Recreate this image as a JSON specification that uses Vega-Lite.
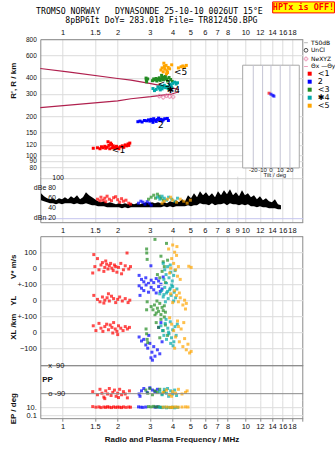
{
"$schema":"https://vega.github.io/schema/vega-lite/v6.json",
"padding":{"left":8.3,"top":1.2,"right":0,"bottom":0},
"background":"white",
"config":{
 "view":{"stroke":null},
 "font":"Liberation Sans",
 "axis":{"labelFont":"Liberation Sans","labelFontSize":7.5,"labelColor":"#111111","titleFont":"Liberation Sans","titleFontSize":8,"titleFontWeight":"bold","titleColor":"#111111","gridColor":"#dcdcdc","domainColor":"#8a8a8a","ticks":false,"labelPadding":4,"labelFlush":false,"labelOverlap":false},
 "legend":{"padding":0,"offset":0}
},
"datasets":{
"trace":[
{"f":0.761,"hi":70,"lo":56},{"f":0.790,"hi":64,"lo":54},{"f":0.821,"hi":60,"lo":52},{"f":0.852,"hi":58,"lo":50},{"f":0.885,"hi":60,"lo":50},{"f":0.919,"hi":56,"lo":48},{"f":0.954,"hi":60,"lo":50},{"f":0.991,"hi":58,"lo":48},{"f":1.029,"hi":62,"lo":50},{"f":1.069,"hi":58,"lo":50},{"f":1.110,"hi":64,"lo":50},{"f":1.153,"hi":60,"lo":48},{"f":1.198,"hi":66,"lo":50},{"f":1.244,"hi":58,"lo":48},{"f":1.291,"hi":62,"lo":48},{"f":1.341,"hi":72,"lo":50},{"f":1.393,"hi":66,"lo":48},{"f":1.447,"hi":62,"lo":46},{"f":1.502,"hi":58,"lo":46},{"f":1.560,"hi":54,"lo":44},{"f":1.620,"hi":52,"lo":44},{"f":1.683,"hi":54,"lo":44},{"f":1.748,"hi":50,"lo":42},{"f":1.815,"hi":52,"lo":42},{"f":1.885,"hi":50,"lo":42},{"f":1.958,"hi":48,"lo":42},{"f":2.033,"hi":50,"lo":42},{"f":2.112,"hi":48,"lo":40},{"f":2.193,"hi":50,"lo":42},{"f":2.277,"hi":48,"lo":40},{"f":2.365,"hi":50,"lo":42},{"f":2.457,"hi":48,"lo":42},{"f":2.551,"hi":50,"lo":42},{"f":2.650,"hi":48,"lo":42},{"f":2.752,"hi":50,"lo":42},{"f":2.858,"hi":52,"lo":42},{"f":2.968,"hi":50,"lo":42},{"f":3.083,"hi":52,"lo":42},{"f":3.201,"hi":50,"lo":42},{"f":3.325,"hi":52,"lo":42},{"f":3.453,"hi":50,"lo":42},{"f":3.586,"hi":52,"lo":44},{"f":3.724,"hi":50,"lo":42},{"f":3.868,"hi":54,"lo":44},{"f":4.017,"hi":52,"lo":42},{"f":4.172,"hi":56,"lo":44},{"f":4.332,"hi":52,"lo":44},{"f":4.499,"hi":58,"lo":44},{"f":4.673,"hi":54,"lo":44},{"f":4.853,"hi":66,"lo":46},{"f":5.040,"hi":60,"lo":44},{"f":5.234,"hi":70,"lo":46},{"f":5.436,"hi":62,"lo":46},{"f":5.645,"hi":74,"lo":50},{"f":5.863,"hi":66,"lo":48},{"f":6.089,"hi":72,"lo":48},{"f":6.323,"hi":64,"lo":46},{"f":6.567,"hi":70,"lo":50},{"f":6.820,"hi":62,"lo":46},{"f":7.083,"hi":74,"lo":48},{"f":7.356,"hi":66,"lo":48},{"f":7.640,"hi":76,"lo":50},{"f":7.934,"hi":68,"lo":46},{"f":8.239,"hi":78,"lo":50},{"f":8.557,"hi":66,"lo":48},{"f":8.887,"hi":72,"lo":48},{"f":9.229,"hi":64,"lo":46},{"f":9.585,"hi":76,"lo":48},{"f":9.950,"hi":66,"lo":46},{"f":10.33,"hi":70,"lo":48},{"f":10.73,"hi":62,"lo":44},{"f":11.15,"hi":66,"lo":44},{"f":11.57,"hi":58,"lo":42},{"f":12.02,"hi":64,"lo":44},{"f":12.48,"hi":56,"lo":42},{"f":12.97,"hi":60,"lo":42},{"f":13.47,"hi":54,"lo":40},{"f":13.98,"hi":52,"lo":40},{"f":14.52,"hi":58,"lo":40},{"f":15.08,"hi":48,"lo":38},{"f":15.66,"hi":46,"lo":38}
],
"pts":[
{"p":"R","s":"<1","f":1.47,"v":113},{"p":"R","s":"<1","f":1.55,"v":114},{"p":"R","s":"<1","f":1.60,"v":112},{"p":"R","s":"<1","f":1.63,"v":116},{"p":"R","s":"<1","f":1.66,"v":114},{"p":"R","s":"<1","f":1.70,"v":117},{"p":"R","s":"<1","f":1.72,"v":113},{"p":"R","s":"<1","f":1.75,"v":115},{"p":"R","s":"<1","f":1.77,"v":127},{"p":"R","s":"<1","f":1.79,"v":119},{"p":"R","s":"<1","f":1.81,"v":112},{"p":"R","s":"<1","f":1.83,"v":124},{"p":"R","s":"<1","f":1.85,"v":121},{"p":"R","s":"<1","f":1.87,"v":114},{"p":"R","s":"<1","f":1.89,"v":118},{"p":"R","s":"<1","f":1.92,"v":115},{"p":"R","s":"<1","f":1.95,"v":113},{"p":"R","s":"<1","f":1.97,"v":117},{"p":"R","s":"<1","f":2.00,"v":114},{"p":"R","s":"<1","f":2.03,"v":112},{"p":"R","s":"<1","f":2.07,"v":116},{"p":"R","s":"<1","f":2.12,"v":118},{"p":"R","s":"<1","f":2.16,"v":115},{"p":"R","s":"<1","f":2.20,"v":120},{"p":"R","s":"<1","f":2.24,"v":118},{"p":"R","s":"<1","f":2.28,"v":122},{"p":"R","s":"<1","f":2.33,"v":124},{"p":"R","s":"<1","f":2.30,"v":119},
{"p":"R","s":"2","f":2.58,"v":182},{"p":"R","s":"2","f":2.65,"v":184},{"p":"R","s":"2","f":2.72,"v":181},{"p":"R","s":"2","f":2.80,"v":186},{"p":"R","s":"2","f":2.88,"v":185},{"p":"R","s":"2","f":2.95,"v":188},{"p":"R","s":"2","f":3.00,"v":184},{"p":"R","s":"2","f":3.05,"v":190},{"p":"R","s":"2","f":3.10,"v":186},{"p":"R","s":"2","f":3.15,"v":192},{"p":"R","s":"2","f":3.20,"v":187},{"p":"R","s":"2","f":3.25,"v":183},{"p":"R","s":"2","f":3.30,"v":189},{"p":"R","s":"2","f":3.35,"v":194},{"p":"R","s":"2","f":3.40,"v":186},{"p":"R","s":"2","f":3.45,"v":190},{"p":"R","s":"2","f":3.50,"v":184},{"p":"R","s":"2","f":3.55,"v":188},{"p":"R","s":"2","f":3.62,"v":192},{"p":"R","s":"2","f":3.12,"v":180},{"p":"R","s":"2","f":3.74,"v":193},{"p":"R","s":"2","f":3.79,"v":186},
{"p":"R","s":"<3","f":2.86,"v":398},{"p":"R","s":"<3","f":2.87,"v":385},{"p":"R","s":"<3","f":2.88,"v":372},{"p":"R","s":"<3","f":2.92,"v":392},{"p":"R","s":"<3","f":3.10,"v":380},{"p":"R","s":"<3","f":3.15,"v":392},{"p":"R","s":"<3","f":3.20,"v":385},{"p":"R","s":"<3","f":3.25,"v":395},{"p":"R","s":"<3","f":3.28,"v":378},{"p":"R","s":"<3","f":3.32,"v":388},{"p":"R","s":"<3","f":3.38,"v":400},{"p":"R","s":"<3","f":3.42,"v":382},{"p":"R","s":"<3","f":3.47,"v":392},{"p":"R","s":"<3","f":3.52,"v":405},{"p":"R","s":"<3","f":3.56,"v":386},{"p":"R","s":"<3","f":3.60,"v":398},{"p":"R","s":"<3","f":3.65,"v":410},{"p":"R","s":"<3","f":3.70,"v":392},{"p":"R","s":"<3","f":3.75,"v":378},{"p":"R","s":"<3","f":3.82,"v":402},{"p":"R","s":"<3","f":3.90,"v":388},{"p":"R","s":"<3","f":3.48,"v":418},{"p":"R","s":"<3","f":3.98,"v":375},
{"p":"R","s":"✱4","f":3.12,"v":330},{"p":"R","s":"✱4","f":3.18,"v":318},{"p":"R","s":"✱4","f":3.25,"v":325},{"p":"R","s":"✱4","f":3.32,"v":340},{"p":"R","s":"✱4","f":3.38,"v":332},{"p":"R","s":"✱4","f":3.45,"v":345},{"p":"R","s":"✱4","f":3.50,"v":328},{"p":"R","s":"✱4","f":3.55,"v":338},{"p":"R","s":"✱4","f":3.60,"v":350},{"p":"R","s":"✱4","f":3.66,"v":335},{"p":"R","s":"✱4","f":3.72,"v":342},{"p":"R","s":"✱4","f":3.78,"v":330},{"p":"R","s":"✱4","f":3.85,"v":355},{"p":"R","s":"✱4","f":3.92,"v":348},{"p":"R","s":"✱4","f":4.00,"v":362},{"p":"R","s":"✱4","f":4.10,"v":370},{"p":"R","s":"✱4","f":4.18,"v":358},{"p":"R","s":"✱4","f":4.25,"v":366},{"p":"R","s":"✱4","f":3.42,"v":322},{"p":"R","s":"✱4","f":3.95,"v":338},
{"p":"R","s":"<5","f":3.45,"v":460},{"p":"R","s":"<5","f":3.50,"v":478},{"p":"R","s":"<5","f":3.55,"v":445},{"p":"R","s":"<5","f":3.60,"v":490},{"p":"R","s":"<5","f":3.62,"v":468},{"p":"R","s":"<5","f":3.68,"v":500},{"p":"R","s":"<5","f":3.72,"v":455},{"p":"R","s":"<5","f":3.78,"v":482},{"p":"R","s":"<5","f":3.85,"v":470},{"p":"R","s":"<5","f":3.70,"v":430},{"p":"R","s":"<5","f":4.30,"v":478},{"p":"R","s":"<5","f":4.45,"v":488},{"p":"R","s":"<5","f":4.55,"v":495},{"p":"R","s":"<5","f":4.65,"v":485},{"p":"R","s":"<5","f":4.75,"v":500},{"p":"R","s":"<5","f":3.95,"v":505},{"p":"R","s":"<5","f":3.58,"v":520},{"p":"R","s":"<5","f":3.75,"v":440},
{"p":"T","s":"<1","f":13.48,"v":303.5},{"p":"T","s":"2","f":13.81,"v":298},{"p":"T","s":"2","f":14.16,"v":292},{"p":"T","s":"2","f":14.34,"v":287.6},
{"p":"A","s":"<1","f":1.55,"v":58},{"p":"A","s":"<1","f":1.62,"v":62},{"p":"A","s":"<1","f":1.66,"v":56},{"p":"A","s":"<1","f":1.70,"v":60},{"p":"A","s":"<1","f":1.75,"v":64},{"p":"A","s":"<1","f":1.80,"v":58},{"p":"A","s":"<1","f":1.85,"v":55},{"p":"A","s":"<1","f":1.90,"v":61},{"p":"A","s":"<1","f":1.95,"v":63},{"p":"A","s":"<1","f":2.00,"v":57},{"p":"A","s":"<1","f":2.05,"v":52},{"p":"A","s":"<1","f":2.10,"v":59},{"p":"A","s":"<1","f":2.15,"v":54},{"p":"A","s":"<1","f":2.22,"v":56},{"p":"A","s":"<1","f":2.30,"v":50},{"p":"A","s":"<1","f":1.60,"v":55},{"p":"A","s":"<1","f":1.72,"v":53},{"p":"A","s":"<1","f":2.35,"v":48},
{"p":"A","s":"2","f":2.60,"v":50},{"p":"A","s":"2","f":2.68,"v":54},{"p":"A","s":"2","f":2.75,"v":52},{"p":"A","s":"2","f":2.82,"v":48},{"p":"A","s":"2","f":2.90,"v":53},{"p":"A","s":"2","f":2.98,"v":50},{"p":"A","s":"2","f":3.05,"v":46},
{"p":"A","s":"<3","f":2.95,"v":58},{"p":"A","s":"<3","f":3.05,"v":62},{"p":"A","s":"<3","f":3.15,"v":66},{"p":"A","s":"<3","f":3.22,"v":60},{"p":"A","s":"<3","f":3.30,"v":68},{"p":"A","s":"<3","f":3.38,"v":64},{"p":"A","s":"<3","f":3.45,"v":60},{"p":"A","s":"<3","f":3.55,"v":56},
{"p":"A","s":"✱4","f":3.30,"v":62},{"p":"A","s":"✱4","f":3.40,"v":58},{"p":"A","s":"✱4","f":3.50,"v":64},{"p":"A","s":"✱4","f":3.60,"v":60},{"p":"A","s":"✱4","f":3.70,"v":56},{"p":"A","s":"✱4","f":3.80,"v":62},{"p":"A","s":"✱4","f":3.95,"v":58},{"p":"A","s":"✱4","f":4.10,"v":54},{"p":"A","s":"✱4","f":4.25,"v":60},
{"p":"A","s":"<5","f":3.60,"v":54},{"p":"A","s":"<5","f":3.75,"v":58},{"p":"A","s":"<5","f":3.90,"v":62},{"p":"A","s":"<5","f":4.00,"v":56},{"p":"A","s":"<5","f":4.20,"v":52},{"p":"A","s":"<5","f":4.40,"v":58},{"p":"A","s":"<5","f":4.60,"v":54},{"p":"A","s":"<5","f":4.80,"v":50},{"p":"A","s":"<5","f":5.00,"v":56},{"p":"A","s":"<5","f":3.50,"v":50},
{"p":"V","s":"<1","f":1.46,"v":-30},{"p":"V","s":"<1","f":1.50,"v":10},{"p":"V","s":"<1","f":1.55,"v":60},{"p":"V","s":"<1","f":1.58,"v":-10},{"p":"V","s":"<1","f":1.62,"v":20},{"p":"V","s":"<1","f":1.65,"v":35},{"p":"V","s":"<1","f":1.68,"v":-20},{"p":"V","s":"<1","f":1.70,"v":5},{"p":"V","s":"<1","f":1.74,"v":25},{"p":"V","s":"<1","f":1.77,"v":-5},{"p":"V","s":"<1","f":1.80,"v":15},{"p":"V","s":"<1","f":1.83,"v":30},{"p":"V","s":"<1","f":1.86,"v":0},{"p":"V","s":"<1","f":1.89,"v":-15},{"p":"V","s":"<1","f":1.92,"v":20},{"p":"V","s":"<1","f":1.95,"v":10},{"p":"V","s":"<1","f":1.98,"v":-25},{"p":"V","s":"<1","f":2.02,"v":5},{"p":"V","s":"<1","f":2.08,"v":30},{"p":"V","s":"<1","f":2.15,"v":-10},{"p":"V","s":"<1","f":2.20,"v":15},{"p":"V","s":"<1","f":2.25,"v":95},{"p":"V","s":"<1","f":2.30,"v":-5},{"p":"V","s":"<1","f":2.35,"v":10},{"p":"V","s":"<1","f":1.48,"v":85},{"p":"V","s":"<1","f":1.72,"v":45},{"p":"V","s":"<1","f":2.10,"v":-35},
{"p":"V","s":"2","f":2.70,"v":-70},{"p":"V","s":"2","f":2.78,"v":-85},{"p":"V","s":"2","f":2.85,"v":-60},{"p":"V","s":"2","f":2.95,"v":-95},{"p":"V","s":"2","f":3.05,"v":-75},{"p":"V","s":"2","f":3.15,"v":-90},{"p":"V","s":"2","f":3.25,"v":-65},{"p":"V","s":"2","f":3.35,"v":-80},{"p":"V","s":"2","f":3.45,"v":-100},{"p":"V","s":"2","f":3.55,"v":-55},{"p":"V","s":"2","f":3.04,"v":15},{"p":"V","s":"2","f":2.62,"v":-45},
{"p":"V","s":"<3","f":2.88,"v":120},{"p":"V","s":"<3","f":2.885,"v":95},{"p":"V","s":"<3","f":2.90,"v":55},{"p":"V","s":"<3","f":3.20,"v":180},{"p":"V","s":"<3","f":3.70,"v":155},{"p":"V","s":"<3","f":3.45,"v":75},{"p":"V","s":"<3","f":3.55,"v":40},{"p":"V","s":"<3","f":3.60,"v":10},{"p":"V","s":"<3","f":3.50,"v":-20},{"p":"V","s":"<3","f":3.40,"v":-60},{"p":"V","s":"<3","f":3.65,"v":-90},{"p":"V","s":"<3","f":3.75,"v":50},{"p":"V","s":"<3","f":3.30,"v":-40},
{"p":"V","s":"✱4","f":3.55,"v":30},{"p":"V","s":"✱4","f":3.62,"v":-10},{"p":"V","s":"✱4","f":3.68,"v":-40},{"p":"V","s":"✱4","f":3.75,"v":10},{"p":"V","s":"✱4","f":3.82,"v":-60},{"p":"V","s":"✱4","f":3.90,"v":-25},{"p":"V","s":"✱4","f":3.98,"v":-80},{"p":"V","s":"✱4","f":4.05,"v":-45},{"p":"V","s":"✱4","f":3.70,"v":-95},{"p":"V","s":"✱4","f":3.58,"v":-70},{"p":"V","s":"✱4","f":4.12,"v":-15},{"p":"V","s":"✱4","f":3.88,"v":20},
{"p":"V","s":"<5","f":3.80,"v":120},{"p":"V","s":"<5","f":4.00,"v":145},{"p":"V","s":"<5","f":4.10,"v":100},{"p":"V","s":"<5","f":4.20,"v":80},{"p":"V","s":"<5","f":3.95,"v":60},{"p":"V","s":"<5","f":4.05,"v":30},{"p":"V","s":"<5","f":4.15,"v":-10},{"p":"V","s":"<5","f":4.25,"v":-50},{"p":"V","s":"<5","f":3.85,"v":-30},{"p":"V","s":"<5","f":4.30,"v":10},{"p":"V","s":"<5","f":4.90,"v":12},{"p":"V","s":"<5","f":5.05,"v":5},{"p":"V","s":"<5","f":4.40,"v":-70},{"p":"V","s":"<5","f":3.90,"v":0},{"p":"V","s":"<5","f":4.22,"v":135},
{"p":"Y","s":"<1","f":1.48,"v":30},{"p":"Y","s":"<1","f":1.55,"v":5},{"p":"Y","s":"<1","f":1.60,"v":-10},{"p":"Y","s":"<1","f":1.65,"v":20},{"p":"Y","s":"<1","f":1.70,"v":0},{"p":"Y","s":"<1","f":1.75,"v":15},{"p":"Y","s":"<1","f":1.80,"v":-5},{"p":"Y","s":"<1","f":1.85,"v":25},{"p":"Y","s":"<1","f":1.90,"v":10},{"p":"Y","s":"<1","f":1.95,"v":-15},{"p":"Y","s":"<1","f":2.00,"v":5},{"p":"Y","s":"<1","f":2.05,"v":20},{"p":"Y","s":"<1","f":2.12,"v":-5},{"p":"Y","s":"<1","f":2.20,"v":10},{"p":"Y","s":"<1","f":2.28,"v":-15},{"p":"Y","s":"<1","f":2.33,"v":0},{"p":"Y","s":"<1","f":1.78,"v":40},{"p":"Y","s":"<1","f":1.68,"v":-18},
{"p":"Y","s":"2","f":2.62,"v":90},{"p":"Y","s":"2","f":2.70,"v":75},{"p":"Y","s":"2","f":2.78,"v":60},{"p":"Y","s":"2","f":2.86,"v":95},{"p":"Y","s":"2","f":2.95,"v":50},{"p":"Y","s":"2","f":3.05,"v":80},{"p":"Y","s":"2","f":3.15,"v":65},{"p":"Y","s":"2","f":3.25,"v":45},{"p":"Y","s":"2","f":3.35,"v":85},{"p":"Y","s":"2","f":3.42,"v":55},{"p":"Y","s":"2","f":2.65,"v":30},{"p":"Y","s":"2","f":3.50,"v":70},
{"p":"Y","s":"<3","f":3.05,"v":-40},{"p":"Y","s":"<3","f":3.12,"v":-60},{"p":"Y","s":"<3","f":3.18,"v":-30},{"p":"Y","s":"<3","f":3.25,"v":-80},{"p":"Y","s":"<3","f":3.30,"v":-50},{"p":"Y","s":"<3","f":3.35,"v":-70},{"p":"Y","s":"<3","f":3.40,"v":-20},{"p":"Y","s":"<3","f":3.45,"v":-90},{"p":"Y","s":"<3","f":3.50,"v":-45},{"p":"Y","s":"<3","f":3.55,"v":-65},{"p":"Y","s":"<3","f":3.60,"v":-35},{"p":"Y","s":"<3","f":3.20,"v":-95},{"p":"Y","s":"<3","f":2.90,"v":-10},{"p":"Y","s":"<3","f":2.88,"v":-60},{"p":"Y","s":"<3","f":3.65,"v":-75},{"p":"Y","s":"<3","f":3.28,"v":-5},
{"p":"Y","s":"✱4","f":3.40,"v":40},{"p":"Y","s":"✱4","f":3.48,"v":60},{"p":"Y","s":"✱4","f":3.55,"v":20},{"p":"Y","s":"✱4","f":3.62,"v":80},{"p":"Y","s":"✱4","f":3.70,"v":45},{"p":"Y","s":"✱4","f":3.78,"v":10},{"p":"Y","s":"✱4","f":3.85,"v":65},{"p":"Y","s":"✱4","f":3.92,"v":30},{"p":"Y","s":"✱4","f":4.00,"v":85},{"p":"Y","s":"✱4","f":4.08,"v":50},{"p":"Y","s":"✱4","f":4.15,"v":15},{"p":"Y","s":"✱4","f":4.22,"v":70},{"p":"Y","s":"✱4","f":3.65,"v":-10},{"p":"Y","s":"✱4","f":3.95,"v":95},{"p":"Y","s":"✱4","f":3.75,"v":55},{"p":"Y","s":"✱4","f":4.05,"v":-5},{"p":"Y","s":"✱4","f":3.58,"v":35},{"p":"Y","s":"✱4","f":3.88,"v":75},
{"p":"Y","s":"<5","f":4.10,"v":60},{"p":"Y","s":"<5","f":4.20,"v":30},{"p":"Y","s":"<5","f":4.30,"v":-10},{"p":"Y","s":"<5","f":4.40,"v":15},{"p":"Y","s":"<5","f":4.55,"v":-30},{"p":"Y","s":"<5","f":4.65,"v":0},{"p":"Y","s":"<5","f":4.70,"v":-55},{"p":"Y","s":"<5","f":4.75,"v":-20},{"p":"Y","s":"<5","f":3.90,"v":40},{"p":"Y","s":"<5","f":4.00,"v":-15},{"p":"Y","s":"<5","f":4.35,"v":45},
{"p":"X","s":"<1","f":1.47,"v":40},{"p":"X","s":"<1","f":1.52,"v":10},{"p":"X","s":"<1","f":1.58,"v":55},{"p":"X","s":"<1","f":1.62,"v":25},{"p":"X","s":"<1","f":1.66,"v":5},{"p":"X","s":"<1","f":1.70,"v":35},{"p":"X","s":"<1","f":1.74,"v":50},{"p":"X","s":"<1","f":1.78,"v":15},{"p":"X","s":"<1","f":1.82,"v":45},{"p":"X","s":"<1","f":1.86,"v":30},{"p":"X","s":"<1","f":1.90,"v":60},{"p":"X","s":"<1","f":1.94,"v":20},{"p":"X","s":"<1","f":1.98,"v":5},{"p":"X","s":"<1","f":2.02,"v":40},{"p":"X","s":"<1","f":2.08,"v":25},{"p":"X","s":"<1","f":2.14,"v":10},{"p":"X","s":"<1","f":2.20,"v":35},{"p":"X","s":"<1","f":2.26,"v":20},{"p":"X","s":"<1","f":2.32,"v":30},{"p":"X","s":"<1","f":1.88,"v":-5},{"p":"X","s":"<1","f":2.00,"v":-15},
{"p":"X","s":"2","f":2.62,"v":-30},{"p":"X","s":"2","f":2.70,"v":-55},{"p":"X","s":"2","f":2.78,"v":-45},{"p":"X","s":"2","f":2.85,"v":-80},{"p":"X","s":"2","f":2.92,"v":-100},{"p":"X","s":"2","f":3.00,"v":-70},{"p":"X","s":"2","f":3.08,"v":-125},{"p":"X","s":"2","f":3.15,"v":-90},{"p":"X","s":"2","f":3.20,"v":-150},{"p":"X","s":"2","f":3.30,"v":-110},{"p":"X","s":"2","f":3.35,"v":30},{"p":"X","s":"2","f":3.45,"v":60},{"p":"X","s":"2","f":3.50,"v":-60},{"p":"X","s":"2","f":3.40,"v":-135},{"p":"X","s":"2","f":2.96,"v":-20},{"p":"X","s":"2","f":3.04,"v":-160},{"p":"X","s":"2","f":3.10,"v":-175},
{"p":"X","s":"<3","f":2.86,"v":20},{"p":"X","s":"<3","f":2.88,"v":-10},{"p":"X","s":"<3","f":2.90,"v":-45},{"p":"X","s":"<3","f":2.92,"v":-65},{"p":"X","s":"<3","f":3.25,"v":60},{"p":"X","s":"<3","f":3.35,"v":30},{"p":"X","s":"<3","f":3.45,"v":80},{"p":"X","s":"<3","f":3.55,"v":10},{"p":"X","s":"<3","f":3.65,"v":45},{"p":"X","s":"<3","f":3.75,"v":-20},{"p":"X","s":"<3","f":3.40,"v":-35},{"p":"X","s":"<3","f":3.60,"v":95},
{"p":"X","s":"✱4","f":3.45,"v":40},{"p":"X","s":"✱4","f":3.52,"v":10},{"p":"X","s":"✱4","f":3.58,"v":-20},{"p":"X","s":"✱4","f":3.64,"v":55},{"p":"X","s":"✱4","f":3.70,"v":-45},{"p":"X","s":"✱4","f":3.76,"v":25},{"p":"X","s":"✱4","f":3.82,"v":-10},{"p":"X","s":"✱4","f":3.88,"v":65},{"p":"X","s":"✱4","f":3.94,"v":-35},{"p":"X","s":"✱4","f":4.00,"v":15},{"p":"X","s":"✱4","f":4.06,"v":-60},{"p":"X","s":"✱4","f":4.12,"v":35},{"p":"X","s":"✱4","f":4.18,"v":-20},{"p":"X","s":"✱4","f":4.24,"v":50},{"p":"X","s":"✱4","f":3.68,"v":80},{"p":"X","s":"✱4","f":3.90,"v":-70},{"p":"X","s":"✱4","f":4.02,"v":-85},{"p":"X","s":"✱4","f":3.80,"v":0},
{"p":"X","s":"<5","f":3.85,"v":90},{"p":"X","s":"<5","f":3.95,"v":50},{"p":"X","s":"<5","f":4.05,"v":10},{"p":"X","s":"<5","f":4.15,"v":-30},{"p":"X","s":"<5","f":4.25,"v":70},{"p":"X","s":"<5","f":4.35,"v":-60},{"p":"X","s":"<5","f":4.45,"v":20},{"p":"X","s":"<5","f":4.55,"v":-90},{"p":"X","s":"<5","f":4.65,"v":-40},{"p":"X","s":"<5","f":4.75,"v":-110},{"p":"X","s":"<5","f":4.85,"v":-75},{"p":"X","s":"<5","f":4.95,"v":-130},{"p":"X","s":"<5","f":4.10,"v":-100},{"p":"X","s":"<5","f":4.30,"v":35},{"p":"X","s":"<5","f":5.05,"v":-120},{"p":"X","s":"<5","f":4.60,"v":60},
{"p":"P","s":"<1","f":1.46,"v":-80},{"p":"P","s":"<1","f":1.55,"v":-100},{"p":"P","s":"<1","f":1.60,"v":-65},{"p":"P","s":"<1","f":1.64,"v":-90},{"p":"P","s":"<1","f":1.68,"v":-115},{"p":"P","s":"<1","f":1.72,"v":-75},{"p":"P","s":"<1","f":1.76,"v":-95},{"p":"P","s":"<1","f":1.80,"v":-60},{"p":"P","s":"<1","f":1.84,"v":-105},{"p":"P","s":"<1","f":1.88,"v":-85},{"p":"P","s":"<1","f":1.92,"v":-70},{"p":"P","s":"<1","f":1.96,"v":-110},{"p":"P","s":"<1","f":2.00,"v":-90},{"p":"P","s":"<1","f":2.05,"v":-65},{"p":"P","s":"<1","f":2.10,"v":-100},{"p":"P","s":"<1","f":2.15,"v":-80},{"p":"P","s":"<1","f":2.20,"v":-95},{"p":"P","s":"<1","f":2.26,"v":-120},{"p":"P","s":"<1","f":2.32,"v":-75},{"p":"P","s":"<1","f":1.70,"v":-125},{"p":"P","s":"<1","f":2.02,"v":-118},
{"p":"P","s":"2","f":2.62,"v":-95},{"p":"P","s":"2","f":2.70,"v":-75},{"p":"P","s":"2","f":2.78,"v":-60},{"p":"P","s":"2","f":2.90,"v":-85},{"p":"P","s":"2","f":3.00,"v":-55},{"p":"P","s":"2","f":3.10,"v":-70},{"p":"P","s":"2","f":3.20,"v":-80},{"p":"P","s":"2","f":2.65,"v":-110},{"p":"P","s":"2","f":3.30,"v":-65},
{"p":"P","s":"<3","f":2.85,"v":-70},{"p":"P","s":"<3","f":2.92,"v":-90},{"p":"P","s":"<3","f":3.00,"v":-60},{"p":"P","s":"<3","f":3.10,"v":-100},{"p":"P","s":"<3","f":3.20,"v":-75},{"p":"P","s":"<3","f":3.30,"v":-85},{"p":"P","s":"<3","f":3.40,"v":-65},{"p":"P","s":"<3","f":3.50,"v":-95},{"p":"P","s":"<3","f":3.60,"v":-80},
{"p":"P","s":"✱4","f":3.40,"v":-80},{"p":"P","s":"✱4","f":3.50,"v":-100},{"p":"P","s":"✱4","f":3.60,"v":-65},{"p":"P","s":"✱4","f":3.70,"v":-90},{"p":"P","s":"✱4","f":3.80,"v":-110},{"p":"P","s":"✱4","f":3.90,"v":-75},{"p":"P","s":"✱4","f":4.00,"v":-95},{"p":"P","s":"✱4","f":4.10,"v":-70},{"p":"P","s":"✱4","f":4.20,"v":-105},{"p":"P","s":"✱4","f":3.75,"v":-60},
{"p":"P","s":"<5","f":3.55,"v":-85},{"p":"P","s":"<5","f":3.70,"v":-70},{"p":"P","s":"<5","f":3.85,"v":-100},{"p":"P","s":"<5","f":4.00,"v":-80},{"p":"P","s":"<5","f":4.15,"v":-90},{"p":"P","s":"<5","f":4.30,"v":-65},{"p":"P","s":"<5","f":4.50,"v":-95},{"p":"P","s":"<5","f":4.70,"v":-85},{"p":"P","s":"<5","f":4.80,"v":-75},{"p":"P","s":"<5","f":3.95,"v":-110},
{"p":"E","s":"<1","f":1.46,"v":14},{"p":"E","s":"<1","f":1.52,"v":10},{"p":"E","s":"<1","f":1.58,"v":12},{"p":"E","s":"<1","f":1.62,"v":8},{"p":"E","s":"<1","f":1.68,"v":11},{"p":"E","s":"<1","f":1.72,"v":9},{"p":"E","s":"<1","f":1.76,"v":13},{"p":"E","s":"<1","f":1.80,"v":10},{"p":"E","s":"<1","f":1.85,"v":8},{"p":"E","s":"<1","f":1.90,"v":12},{"p":"E","s":"<1","f":1.95,"v":9},{"p":"E","s":"<1","f":2.00,"v":11},{"p":"E","s":"<1","f":2.05,"v":10},{"p":"E","s":"<1","f":2.10,"v":8},{"p":"E","s":"<1","f":2.15,"v":12},{"p":"E","s":"<1","f":2.22,"v":9},{"p":"E","s":"<1","f":2.30,"v":11},{"p":"E","s":"<1","f":2.35,"v":10},
{"p":"E","s":"2","f":2.60,"v":12},{"p":"E","s":"2","f":2.68,"v":10},{"p":"E","s":"2","f":2.75,"v":9},{"p":"E","s":"2","f":2.85,"v":11},{"p":"E","s":"2","f":3.20,"v":10},{"p":"E","s":"2","f":3.30,"v":12},
{"p":"E","s":"<3","f":2.95,"v":14},{"p":"E","s":"<3","f":3.05,"v":12},{"p":"E","s":"<3","f":3.15,"v":16},{"p":"E","s":"<3","f":3.25,"v":11},{"p":"E","s":"<3","f":3.35,"v":13},{"p":"E","s":"<3","f":3.45,"v":10},
{"p":"E","s":"✱4","f":3.40,"v":9},{"p":"E","s":"✱4","f":3.50,"v":8},{"p":"E","s":"✱4","f":3.60,"v":10},{"p":"E","s":"✱4","f":3.70,"v":7},{"p":"E","s":"✱4","f":3.80,"v":9},{"p":"E","s":"✱4","f":3.90,"v":8},{"p":"E","s":"✱4","f":4.00,"v":10},{"p":"E","s":"✱4","f":4.10,"v":7},{"p":"E","s":"✱4","f":4.25,"v":9},
{"p":"E","s":"<5","f":3.55,"v":10},{"p":"E","s":"<5","f":3.70,"v":11},{"p":"E","s":"<5","f":3.85,"v":9},{"p":"E","s":"<5","f":4.00,"v":10},{"p":"E","s":"<5","f":4.15,"v":12},{"p":"E","s":"<5","f":4.30,"v":10},{"p":"E","s":"<5","f":4.50,"v":11},{"p":"E","s":"<5","f":4.70,"v":12},{"p":"E","s":"<5","f":4.85,"v":11},{"p":"E","s":"<5","f":3.95,"v":9}
]
},
"resolve":{"scale":{"x":"independent","y":"independent"}},
"spacing":2,
"vconcat":[
{"resolve":{"scale":{"x":"independent","y":"independent"}},"bounds":"flush","spacing":0,"vconcat":[
 {"width":262.4,"height":137,"layer":[
  {"data":{"values":[{"g":"a","f":0.754,"r":472.8},{"g":"a","f":1.065,"r":444.9},{"g":"a","f":2.0,"r":395.1},{"g":"a","f":2.365,"r":383.3},{"g":"a","f":3.04,"r":359.9},{"g":"a","f":3.92,"r":335},{"g":"a","f":4.33,"r":323.2},{"g":"b","f":0.754,"r":234.7},{"g":"b","f":2.0,"r":264.3},{"g":"b","f":2.365,"r":274.9},{"g":"b","f":3.04,"r":285},{"g":"b","f":3.92,"r":298.1},{"g":"b","f":4.33,"r":311.8}]},
   "mark":{"type":"line","color":"#b0204e","strokeWidth":1.2},
   "encoding":{
    "x":{"field":"f","type":"quantitative","scale":{"type":"log","domain":[0.754,20.6],"nice":false},"axis":{"orient":"top","values":[1,1.5,2,3,4,5,6,7,8,10,12,14,16,18,20.6],"format":"~g","labelExpr":"datum.value>20?'':datum.label","labelPadding":3,"grid":true,"gridColor":{"condition":{"test":"datum.value>20","value":"#8a8a8a"},"value":"#dcdcdc"},"domain":true,"title":null}},
    "y":{"field":"r","type":"quantitative","scale":{"type":"log","domain":[68.45,800],"nice":false},"axis":{"values":[80,90,100,120,150,200,300,400,600,800],"labelFontSize":6.5,"grid":true,"domain":true,"title":"R', R / km","titleX":-27,"titleY":41,"titleAlign":"center","titleBaseline":"middle"}},
    "detail":{"field":"g","type":"nominal"}}},
  {"data":{"name":"pts"},"transform":[{"filter":"datum.p=='R'"}],"mark":{"type":"square","size":9,"strokeWidth":0,"opacity":1},
   "encoding":{"x":{"field":"f","type":"quantitative","scale":{"type":"log","domain":[0.754,20.6],"nice":false}},"y":{"field":"v","type":"quantitative","scale":{"type":"log","domain":[68.45,800],"nice":false}},
    "fill":{"field":"s","type":"nominal","scale":{"domain":["<1","2","<3","✱4","<5"],"range":["#ff0000","#0000ff","#228b22","#00a8a8","#ffa500"]},"legend":{"title":null,"orient":"none","legendX":265.4,"legendY":30.5,"symbolType":"square","symbolSize":16,"symbolStrokeWidth":0,"labelFontSize":8,"labelFont":"DejaVu Sans","labelColor":"#000000","rowPadding":0,"labelOffset":4,"padding":0}}}},
  {"data":{"values":[{"k":"NeXYZ","f":3.38,"r":288},{"k":"NeXYZ","f":3.55,"r":282},{"k":"NeXYZ","f":3.70,"r":290},{"k":"NeXYZ","f":3.85,"r":286},{"k":"NeXYZ","f":4.02,"r":284}]},
   "mark":{"type":"point","filled":false,"size":14,"strokeWidth":1},
   "encoding":{"x":{"field":"f","type":"quantitative","scale":{"type":"log","domain":[0.754,20.6],"nice":false}},"y":{"field":"r","type":"quantitative","scale":{"type":"log","domain":[68.45,800],"nice":false}},
    "shape":{"field":"k","type":"nominal","scale":{"domain":["T50dB","UnCl","NeXYZ","Θx —Θy"],"range":["stroke","circle","cross","stroke"]},"legend":{"title":null,"orient":"none","legendX":262.7,"legendY":0.5,"symbolSize":14,"symbolStrokeWidth":1,"labelFontSize":6,"labelFont":"DejaVu Sans","labelColor":"#000000","rowPadding":0.6,"labelOffset":2,"padding":0}},
    "stroke":{"field":"k","type":"nominal","scale":{"domain":["T50dB","UnCl","NeXYZ","Θx —Θy"],"range":["#999999","#000000","#e6739f","#e6739f"]},"legend":{"title":null,"orient":"none","legendX":262.7,"legendY":0.5,"symbolSize":14,"symbolStrokeWidth":1,"labelFontSize":6,"labelFont":"DejaVu Sans","labelColor":"#000000","rowPadding":0.6,"labelOffset":2,"padding":0}}}},
  {"data":{"values":[{"t":"<1","f":2.02,"r":109},{"t":"2","f":3.45,"r":172},{"t":"<3","f":3.59,"r":361},{"t":"✱4","f":4.04,"r":322},{"t":"<5","f":4.42,"r":445}]},
   "mark":{"type":"text","font":"DejaVu Sans","fontSize":9,"color":"#000000","baseline":"middle","align":"center"},
   "encoding":{"x":{"field":"f","type":"quantitative","scale":{"type":"log","domain":[0.754,20.6],"nice":false}},"y":{"field":"r","type":"quantitative","scale":{"type":"log","domain":[68.45,800],"nice":false}},"text":{"field":"t"}}},
  {"data":{"values":[{"f1":9.666,"f2":19.73,"r1":501.6,"r2":79.4}]},
   "mark":{"type":"rect","fill":"#ffffff","stroke":"#a8a8a8","strokeWidth":1},
   "encoding":{"x":{"field":"f1","type":"quantitative","scale":{"type":"log","domain":[0.754,20.6],"nice":false}},"x2":{"field":"f2"},"y":{"field":"r1","type":"quantitative","scale":{"type":"log","domain":[68.45,800],"nice":false}},"y2":{"field":"r2"}}},
  {"data":{"values":[{"f":11.05,"r1":501.6,"r2":79.4},{"f":12.43,"r1":501.6,"r2":79.4},{"f":13.81,"r1":501.6,"r2":79.4},{"f":15.52,"r1":501.6,"r2":79.4},{"f":17.54,"r1":501.6,"r2":79.4}]},
   "mark":{"type":"rule","color":"#c4c4d4","strokeWidth":1},
   "encoding":{"x":{"field":"f","type":"quantitative","scale":{"type":"log","domain":[0.754,20.6],"nice":false}},"y":{"field":"r1","type":"quantitative","scale":{"type":"log","domain":[68.45,800],"nice":false}},"y2":{"field":"r2"}}},
  {"data":{"values":[{"t":"-20","f":11.05,"r":76.2},{"t":"-10","f":12.43,"r":76.2},{"t":"0","f":13.81,"r":76.2},{"t":"10","f":15.52,"r":76.2},{"t":"20","f":17.54,"r":76.2},{"t":"Tilt / deg","f":14.5,"r":70.3}]},
   "mark":{"type":"text","font":"Liberation Sans","fontSize":6,"color":"#222222","baseline":"middle","align":"center"},
   "encoding":{"x":{"field":"f","type":"quantitative","scale":{"type":"log","domain":[0.754,20.6],"nice":false}},"y":{"field":"r","type":"quantitative","scale":{"type":"log","domain":[68.45,800],"nice":false}},"text":{"field":"t"}}},
  {"data":{"name":"pts"},"transform":[{"filter":"datum.p=='T'"}],"mark":{"type":"square","size":9,"strokeWidth":0},
   "encoding":{"x":{"field":"f","type":"quantitative","scale":{"type":"log","domain":[0.754,20.6],"nice":false}},"y":{"field":"v","type":"quantitative","scale":{"type":"log","domain":[68.45,800],"nice":false}},
    "fill":{"field":"s","type":"nominal","scale":{"domain":["<1","2","<3","✱4","<5"],"range":["#ff0000","#0000ff","#228b22","#00a8a8","#ffa500"]}}}},
  {"data":{"values":[{"f1":14.11,"f2":30.74,"r1":1562.6,"r2":1282.7}]},
   "mark":{"type":"rect","fill":"#ffff00","stroke":"#ff0000","strokeWidth":1},
   "encoding":{"x":{"field":"f1","type":"quantitative","scale":{"type":"log","domain":[0.754,20.6],"nice":false}},"x2":{"field":"f2"},"y":{"field":"r1","type":"quantitative","scale":{"type":"log","domain":[68.45,800],"nice":false}},"y2":{"field":"r2"}}},
  {"data":{"values":[{"t":"HPTx is OFF!","f":20.8,"r":1415.8}]},
   "mark":{"type":"text","font":"DejaVu Sans Mono","fontSize":8.5,"fontWeight":"bold","color":"#ff0000","baseline":"middle","align":"center"},
   "encoding":{"x":{"field":"f","type":"quantitative","scale":{"type":"log","domain":[0.754,20.6],"nice":false}},"y":{"field":"r","type":"quantitative","scale":{"type":"log","domain":[68.45,800],"nice":false}},"text":{"field":"t"}}},
  {"data":{"values":[{"t":"TROMSO NORWAY\u00a0\u00a0\u00a0DYNASONDE 25-10-10 0026UT 15°E","f":0.7144,"r":1300},{"t":"8pBP6It DoY= 283.018 File= TR812450.BPG","f":1.033,"r":1112}]},
   "mark":{"type":"text","font":"DejaVu Sans Mono","fontSize":8.2,"color":"#000000","baseline":"middle","align":"left"},
   "encoding":{"x":{"field":"f","type":"quantitative","scale":{"type":"log","domain":[0.754,20.6],"nice":false}},"y":{"field":"r","type":"quantitative","scale":{"type":"log","domain":[68.45,800],"nice":false}},"text":{"field":"t"}}}
 ]},
 {"width":262.4,"height":46,"layer":[
  {"data":{"name":"trace"},"mark":{"type":"area","color":"#000000"},
   "encoding":{
    "x":{"field":"f","type":"quantitative","scale":{"type":"log","domain":[0.754,20.6],"nice":false},"axis":{"orient":"bottom","values":[1,1.5,2,3,4,5,6,7,8,9,10,12,14,16,18,20.6],"format":"~g","labelExpr":"datum.value>20?'':datum.label","labelPadding":4,"grid":true,"gridColor":{"condition":{"test":"datum.value>20","value":"#8a8a8a"},"value":"#dcdcdc"},"domain":true,"title":null}},
    "y":{"field":"hi","type":"quantitative","scale":{"domain":[12,104],"nice":false,"zero":false},"axis":{"values":[20,40,60,80,100],"labels":false,"grid":true,"gridColor":{"condition":{"test":"datum.value==20","value":"#c4c4ee"},"value":"#d0d0d0"},"domain":true,"title":null}},
    "y2":{"field":"lo"}}},
  {"data":{"name":"pts"},"transform":[{"filter":"datum.p=='A'"}],"mark":{"type":"square","size":9,"strokeWidth":0},
   "encoding":{"x":{"field":"f","type":"quantitative","scale":{"type":"log","domain":[0.754,20.6],"nice":false}},"y":{"field":"v","type":"quantitative","scale":{"domain":[12,104],"nice":false,"zero":false}},
    "fill":{"field":"s","type":"nominal","scale":{"domain":["<1","2","<3","✱4","<5"],"range":["#ff0000","#0000ff","#228b22","#00a8a8","#ffa500"]}}}},
  {"data":{"values":[{"t":"100","f":1.016,"v":100},{"t":"dBe 80","f":0.919,"v":80},{"t":"60","f":0.919,"v":60},{"t":"40","f":0.919,"v":40},{"t":"dBn 20","f":0.919,"v":20}]},
   "mark":{"type":"text","font":"Liberation Sans","fontSize":7,"color":"#111111","baseline":"middle","align":"right"},
   "encoding":{"x":{"field":"f","type":"quantitative","scale":{"type":"log","domain":[0.754,20.6],"nice":false}},"y":{"field":"v","type":"quantitative","scale":{"domain":[12,104],"nice":false,"zero":false}},"text":{"field":"t"}}}
 ]}
]},
{"resolve":{"scale":{"x":"independent","y":"independent"}},"bounds":"flush","spacing":0,"vconcat":[
 {"width":262.4,"height":48,"data":{"name":"pts"},"transform":[{"filter":"datum.p=='V'"}],"mark":{"type":"square","size":9,"strokeWidth":0},
  "encoding":{
   "x":{"field":"f","type":"quantitative","scale":{"type":"log","domain":[0.754,20.6],"nice":false},"axis":{"orient":"top","values":[1,1.5,2,3,4,5,6,7,8,10,12,14,16,18,20.6],"labels":false,"grid":true,"gridColor":{"condition":{"test":"datum.value>20","value":"#8a8a8a"},"value":"#dcdcdc"},"domain":true,"title":null}},
   "y":{"field":"v","type":"quantitative","scale":{"domain":[-100,200],"nice":false,"zero":false},"axis":{"values":[0,100],"grid":true,"domain":true,"title":"V* m/s","titleX":-27,"titleY":30,"titleAlign":"center","titleBaseline":"middle"}},
   "fill":{"field":"s","type":"nominal","scale":{"domain":["<1","2","<3","✱4","<5"],"range":["#ff0000","#0000ff","#228b22","#00a8a8","#ffa500"]}}}},
 {"width":262.4,"height":32,"data":{"name":"pts"},"transform":[{"filter":"datum.p=='Y'"}],"mark":{"type":"square","size":9,"strokeWidth":0},
  "encoding":{
   "x":{"field":"f","type":"quantitative","scale":{"type":"log","domain":[0.754,20.6],"nice":false},"axis":{"orient":"bottom","values":[1,1.5,2,3,4,5,6,7,8,10,12,14,16,18,20.6],"labels":false,"ticks":false,"domain":false,"grid":true,"gridColor":{"condition":{"test":"datum.value>20","value":"#8a8a8a"},"value":"#dcdcdc"},"title":null}},
   "y":{"field":"v","type":"quantitative","scale":{"domain":[-100,100],"nice":false,"zero":false},"axis":{"values":[0,100],"labelExpr":"datum.value==100?'+-100':datum.label","grid":true,"domain":true,"title":"YL","titleX":-27,"titleY":16,"titleAlign":"center","titleBaseline":"middle"}},
   "fill":{"field":"s","type":"nominal","scale":{"domain":["<1","2","<3","✱4","<5"],"range":["#ff0000","#0000ff","#228b22","#00a8a8","#ffa500"]}}}},
 {"width":262.4,"height":49,"data":{"name":"pts"},"transform":[{"filter":"datum.p=='X'"}],"mark":{"type":"square","size":9,"strokeWidth":0},
  "encoding":{
   "x":{"field":"f","type":"quantitative","scale":{"type":"log","domain":[0.754,20.6],"nice":false},"axis":{"orient":"bottom","values":[1,1.5,2,3,4,5,6,7,8,10,12,14,16,18,20.6],"labels":false,"ticks":false,"domain":false,"grid":true,"gridColor":{"condition":{"test":"datum.value>20","value":"#8a8a8a"},"value":"#dcdcdc"},"title":null}},
   "y":{"field":"v","type":"quantitative","scale":{"domain":[-206.25,100],"nice":false,"zero":false},"axis":{"values":[-100,0,100],"labelExpr":"datum.value==100?'+-100':datum.label","grid":true,"domain":true,"title":"XL  /km","titleX":-27,"titleY":10,"titleAlign":"center","titleBaseline":"middle"}},
   "fill":{"field":"s","type":"nominal","scale":{"domain":["<1","2","<3","✱4","<5"],"range":["#ff0000","#0000ff","#228b22","#00a8a8","#ffa500"]}}}},
 {"width":262.4,"height":35,"data":{"name":"pts"},"transform":[{"filter":"datum.p=='P'"}],"mark":{"type":"square","size":9,"strokeWidth":0},
  "encoding":{
   "x":{"field":"f","type":"quantitative","scale":{"type":"log","domain":[0.754,20.6],"nice":false},"axis":{"orient":"top","values":[1,1.5,2,3,4,5,6,7,8,10,12,14,16,18,20.6],"labels":false,"grid":true,"gridColor":{"condition":{"test":"datum.value>20","value":"#8a8a8a"},"value":"#dcdcdc"},"domain":true,"title":null}},
   "y":{"field":"v","type":"quantitative","scale":{"domain":[-135,90],"nice":false,"zero":false},"axis":{"values":[90,-90],"zindex":1,"labelExpr":"datum.value==90?'x\u00a0\u00a090':'o -90'","labelAlign":"left","labelPadding":-7.4,"grid":true,"gridColor":"#8a8a8a","domain":true,"title":"PP","titleAngle":0,"titleX":6.7,"titleY":14,"titleAlign":"center","titleBaseline":"middle"}},
   "fill":{"field":"s","type":"nominal","scale":{"domain":["<1","2","<3","✱4","<5"],"range":["#ff0000","#0000ff","#228b22","#00a8a8","#ffa500"]}}}},
 {"width":262.4,"height":18,"data":{"name":"pts"},"transform":[{"filter":"datum.p=='E'"}],"mark":{"type":"square","size":9,"strokeWidth":0},
  "encoding":{
   "x":{"field":"f","type":"quantitative","scale":{"type":"log","domain":[0.754,20.6],"nice":false},"axis":{"orient":"bottom","values":[1,1.5,2,3,4,5,6,7,8,10,12,14,16,18,20.6],"format":"~g","labelExpr":"datum.value>20?'':datum.label","ticks":true,"tickSize":3,"tickColor":"#8a8a8a","labelPadding":1.5,"grid":true,"gridColor":{"condition":{"test":"datum.value>20","value":"#8a8a8a"},"value":"#dcdcdc"},"domain":true,"title":"Radio and Plasma Frequency / MHz","titlePadding":5}},
   "y":{"field":"v","type":"quantitative","scale":{"type":"log","domain":[0.01778,562.3],"nice":false},"axis":{"values":[10,0.1],"labelExpr":"datum.value==10?'10.':'0.1'","grid":true,"domain":true,"title":"EP / deg","titleX":-27,"titleY":8,"titleAlign":"center","titleBaseline":"middle"}},
   "fill":{"field":"s","type":"nominal","scale":{"domain":["<1","2","<3","✱4","<5"],"range":["#ff0000","#0000ff","#228b22","#00a8a8","#ffa500"]}}}}
]}
]
}
